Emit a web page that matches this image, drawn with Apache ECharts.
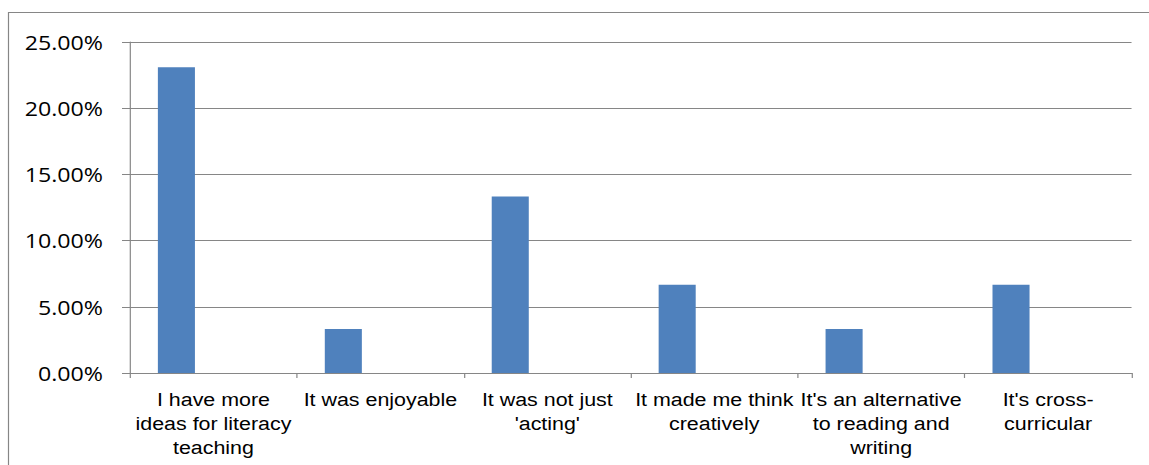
<!DOCTYPE html>
<html>
<head>
<meta charset="utf-8">
<script src="https://cdn.jsdelivr.net/npm/echarts@6/dist/echarts.min.js"></script>
<style>
  html, body { margin: 0; padding: 0; background: #fff; overflow: hidden; }
  /* the chart is laid out narrower and widened horizontally, as in the original figure */
  #chart { width: 966px; height: 465px; transform: scaleX(1.19); transform-origin: 0 0; }
</style>
</head>
<body>
<div id="chart"></div>
<script>
// Reasons given, share of responses (%)
const categories = [
  "I have more\nideas for literacy\nteaching",
  "It was enjoyable",
  "It was not just\n'acting'",
  "It made me think\ncreatively",
  "It's an alternative\nto reading and\nwriting",
  "It's cross-\ncurricular"
];
const shares = [23.1, 3.33, 13.33, 6.67, 3.33, 6.67];
const yTicks = { min: 0, max: 25, step: 5 };

const sx = 1.19;               // horizontal widening of the figure
const axisGrey = '#868686';
const chart = echarts.init(document.getElementById('chart'), null, { renderer: 'svg' });

chart.setOption({
  animation: false,
  backgroundColor: '#ffffff',
  graphic: [{
    type: 'rect',
    shape: { x: 8.5 / sx, y: 12.5, width: 1200, height: 500 },
    style: { fill: 'none', stroke: axisGrey, lineWidth: 1 },
    silent: true,
    z: -1
  }],
  grid: { left: 130 / sx, right: 18 / sx, top: 42, bottom: 92, containLabel: false },
  xAxis: {
    type: 'category',
    data: categories,
    axisLine: { lineStyle: { color: axisGrey, width: 1 } },
    axisTick: { show: true, length: 5, lineStyle: { color: axisGrey } },
    axisLabel: {
      interval: 0,
      margin: 15,
      color: '#000',
      fontFamily: 'Liberation Sans, Arial, sans-serif',
      fontSize: 18,
      lineHeight: 24,
      align: 'center'
    }
  },
  yAxis: {
    type: 'value',
    min: yTicks.min,
    max: yTicks.max,
    interval: yTicks.step,
    axisLine: { show: true, lineStyle: { color: axisGrey, width: 1 } },
    axisTick: { show: true, length: 8 / sx, lineStyle: { color: axisGrey } },
    splitLine: { lineStyle: { color: axisGrey, width: 1 } },
    axisLabel: {
      margin: 27 / sx,
      color: '#000',
      fontFamily: 'Open Sans, sans-serif',
      fontSize: 19.5,
      formatter: v => v.toFixed(2) + '%'
    }
  },
  series: [
    {
      type: 'bar',
      data: shares,
      itemStyle: { color: '#4F81BD' },
      barGap: '0%',
      barCategoryGap: '33.4%'
    },
    { type: 'bar', data: [], barGap: '0%', barCategoryGap: '33.4%' },
    { type: 'bar', data: [], barGap: '0%', barCategoryGap: '33.4%' }
  ]
});
</script>
</body>
</html>
